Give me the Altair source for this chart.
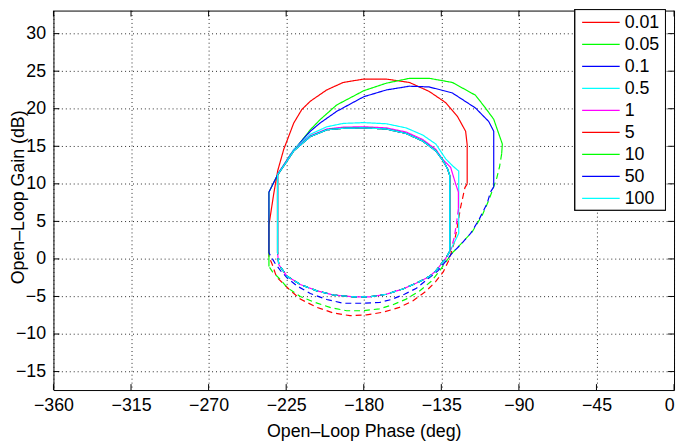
import altair as alt
import pandas as pd

# ---------------- data ----------------
SERIES = ["0.01", "0.05", "0.1", "0.5", "1", "5", "10", "50", "100"]
COLORS = ["#ff0000", "#00ff00", "#0000ff", "#00ffff", "#ff00ff",
          "#ff0000", "#00ff00", "#0000ff", "#00ffff"]

X_TICKS = [-360, -315, -270, -225, -180, -135, -90, -45, 0]
Y_TICKS = [-15, -10, -5, 0, 5, 10, 15, 20, 25, 30]

# 0.01 (red)
S001_SOLID_PH = [-235.0, -235.0, -232.2, -229.9, -226.4, -220.6, -215.9, -211.0, -201.5, -191.9,
                 -180.0, -166.9, -153.5, -142.0, -132.4, -125.7, -120.9, -120.0, -120.0]
S001_SOLID_G = [0.3, 4.5, 8.7, 11.75, 14.6, 18.1, 19.9, 21.0, 22.5, 23.5,
                23.95, 23.95, 23.5, 22.3, 20.8, 19.0, 17.0, 15.2, 10.0]
S001_DASH_PH = [-120.0, -121.3, -123.8, -125.7, -127.6, -130.5, -133.8, -138.2, -143.9, -151.6,
                -159.3, -168.9, -178.4, -188.0, -197.6, -207.2, -216.8, -223.5, -230.6, -233.3, -235.0]
S001_DASH_G = [10.0, 9.5, 6.9, 4.3, 2.1, -0.1, -1.7, -3.0, -4.3, -5.6,
               -6.45, -7.1, -7.45, -7.55, -7.2, -6.45, -5.35, -4.0, -2.4, -0.6, 0.3]

# 0.05 (green)
S005_SOLID_PH = [-235.0, -235.0, -230.2, -222.5, -216.5, -211.0, -205.3, -195.7, -180.0, -166.9,
                 -153.5, -142.0, -128.6, -115.2, -109.4, -104.6, -99.6, -100.0]
S005_SOLID_G = [-1.0, 8.9, 11.1, 13.9, 15.6, 17.2, 18.55, 20.5, 22.4, 23.4,
                24.05, 24.05, 23.5, 21.8, 20.1, 18.6, 15.3, 14.0]
S005_DASH_PH = [-100.0, -101.2, -102.8, -104.6, -107.5, -111.3, -117.1, -124.0, -128.6, -132.4,
                -136.3, -141.0, -147.8, -155.4, -163.1, -171.0, -180.4, -189.9, -199.0, -208.2,
                -216.8, -224.5, -229.0, -233.0, -235.0]
S005_DASH_G = [14.0, 12.3, 10.8, 9.6, 7.8, 5.8, 3.6, 1.9, 0.8, -0.4,
               -1.7, -3.0, -4.3, -5.35, -6.1, -6.65, -6.9, -6.9, -6.5, -5.8,
               -5.0, -3.8, -2.6, -1.7, -1.0]

# 0.1 (blue)
S01_SOLID_PH = [-235.0, -235.0, -230.2, -222.5, -216.5, -211.0, -205.3, -195.7, -180.0, -166.9,
                -153.5, -142.0, -128.6, -115.2, -107.5, -104.6, -104.6]
S01_SOLID_G = [0.8, 8.9, 11.1, 13.9, 15.6, 17.0, 18.1, 19.65, 21.6, 22.5,
               23.0, 22.9, 22.1, 20.1, 18.3, 17.0, 9.6]
S01_DASH_PH = [-104.6, -106.5, -108.4, -113.2, -118.0, -123.8, -128.6, -132.4, -137.0, -142.0,
               -149.7, -156.4, -164.0, -170.8, -180.4, -191.9, -201.5, -211.0, -218.7, -224.5,
               -228.5, -231.4, -235.0]
S01_DASH_G = [9.6, 8.9, 7.4, 5.2, 3.4, 1.9, 0.8, -0.3, -1.6, -2.5,
              -3.95, -4.7, -5.4, -5.8, -5.9, -5.9, -5.4, -4.6, -3.6, -2.5,
              -1.5, -0.6, 0.8]

# 0.5 (cyan, outer of the inner group)
S05_SOLID_PH = [-230.0, -230.0, -225.2, -220.6, -211.0, -201.4, -191.8, -180.0, -166.9, -155.4,
                -145.8, -138.2, -132.4, -128.0, -124.9, -124.9, -129.8]
S05_SOLID_G = [0.8, 11.3, 12.9, 14.6, 16.6, 17.6, 18.05, 18.15, 18.0, 17.45,
               16.5, 15.3, 13.3, 12.3, 11.7, 3.4, 1.1]

# 1 (magenta)
S1_SOLID_PH = [-230.0, -230.0, -225.2, -220.6, -211.0, -201.4, -191.8, -180.0, -166.9, -155.4,
               -145.8, -138.2, -134.4, -129.6, -126.7, -125.1, -125.1]
S1_SOLID_G = [0.8, 11.3, 12.9, 14.5, 16.4, 17.3, 17.55, 17.6, 17.45, 16.9,
              15.9, 14.6, 13.3, 12.2, 10.0, 8.9, 6.7]
S1_DASH_PH = [-125.1, -126.2, -127.6, -129.5]
S1_DASH_G = [6.7, 4.7, 2.75, 1.3]

# 5, 10, 50, 100 (inner curves, drawn on top of each other)
SIN_SOLID_PH = [-230.0, -230.0, -225.2, -220.6, -211.0, -201.4, -191.8, -180.0, -166.9, -155.4,
                -145.8, -138.2, -134.0, -131.4, -130.1, -130.1]
SIN_SOLID_G = [0.8, 11.2, 12.8, 14.4, 16.3, 17.2, 17.4, 17.45, 17.3, 16.7,
               15.7, 14.4, 13.1, 12.0, 11.1, 1.0]

# lower dashed arc shared by the inner group
INNER_DASH_PH = [-130.1, -132.4, -135.3, -138.2, -142.0, -149.7, -157.3, -166.9, -176.5, -186.1,
                 -197.6, -207.2, -216.8, -224.5, -229.3, -230.0]
INNER_DASH_G = [1.0, 0.1, -0.75, -1.6, -2.35, -3.25, -4.0, -4.7, -5.05, -5.05,
                -4.8, -4.25, -3.4, -2.3, -0.75, 0.8]

CURVES = [
    ("0.01", S001_SOLID_PH, S001_SOLID_G, S001_DASH_PH, S001_DASH_G),
    ("0.05", S005_SOLID_PH, S005_SOLID_G, S005_DASH_PH, S005_DASH_G),
    ("0.1", S01_SOLID_PH, S01_SOLID_G, S01_DASH_PH, S01_DASH_G),
    ("0.5", S05_SOLID_PH, S05_SOLID_G, INNER_DASH_PH, INNER_DASH_G),
    ("1", S1_SOLID_PH, S1_SOLID_G, S1_DASH_PH + INNER_DASH_PH[1:], S1_DASH_G + INNER_DASH_G[1:]),
    ("5", SIN_SOLID_PH, SIN_SOLID_G, INNER_DASH_PH, INNER_DASH_G),
    ("10", SIN_SOLID_PH, SIN_SOLID_G, INNER_DASH_PH, INNER_DASH_G),
    ("50", SIN_SOLID_PH, SIN_SOLID_G, INNER_DASH_PH, INNER_DASH_G),
    ("100", SIN_SOLID_PH, SIN_SOLID_G, INNER_DASH_PH, INNER_DASH_G),
]

rows = []
for name, sp, sg, dp, dg in CURVES:
    for i, (p, g) in enumerate(zip(sp, sg)):
        rows.append({"series": name, "part": name + "_s", "kind": "solid", "idx": i, "phase": p, "gain": g})
    for i, (p, g) in enumerate(zip(dp, dg)):
        rows.append({"series": name, "part": name + "_d", "kind": "dashed", "idx": i, "phase": p, "gain": g})
df = pd.DataFrame(rows)
legend_df = pd.DataFrame({"series": SERIES})

# ---------------- layout ----------------
W, H = 628, 384
FONT = "Liberation Sans"
color_scale = alt.Scale(domain=SERIES, range=COLORS)

x_enc = alt.X("phase:Q",
              scale=alt.Scale(domain=[-360, 0], nice=False, zero=False),
              axis=alt.Axis(values=X_TICKS, title="Open–Loop Phase (deg)",
                            labelPadding=7, labelFlush=False,
                            labelAlign={"condition": {"test": "datum.value === 0", "value": "right"},
                                        "value": "center"},
                            titleX=W / 2, titleY=47,
                            titleBaseline="alphabetic", titleAlign="center"))
y_enc = alt.Y("gain:Q",
              scale=alt.Scale(domain=[-17.46, 33.07], nice=False, zero=False),
              axis=alt.Axis(values=Y_TICKS, title="Open–Loop Gain (dB)",
                            labelPadding=8, labelFlush=False, titleX=-30, titleY=188.5,
                            titleAngle=270, titleBaseline="alphabetic", titleAlign="center"))

lines = alt.Chart(df).mark_line(strokeWidth=1.2, clip=True).encode(
    x=x_enc,
    y=y_enc,
    color=alt.Color("series:N", scale=color_scale, legend=None),
    strokeDash=alt.StrokeDash("kind:N",
                              scale=alt.Scale(domain=["solid", "dashed"], range=[[1, 0], [6, 4]]),
                              legend=None),
    detail="part:N",
    order="idx:Q",
)

xt = pd.DataFrame({"phase": X_TICKS})
yt = pd.DataFrame({"gain": Y_TICKS})
tick_bottom = alt.Chart(xt).mark_rule(color="black", strokeWidth=1).encode(
    x=x_enc, y=alt.value(H), y2=alt.value(H - 6))
tick_top = alt.Chart(xt).mark_rule(color="black", strokeWidth=1).encode(
    x=x_enc, y=alt.value(0), y2=alt.value(6))
tick_left = alt.Chart(yt).mark_rule(color="black", strokeWidth=1).encode(
    y=y_enc, x=alt.value(0), x2=alt.value(6))
tick_right = alt.Chart(yt).mark_rule(color="black", strokeWidth=1).encode(
    y=y_enc, x=alt.value(W), x2=alt.value(W - 6))

base = alt.layer(lines, tick_bottom, tick_top, tick_left, tick_right)

# legend box drawn inside the plot (top right), entries placed by a point scale
leg_y = alt.Y("series:N", scale=alt.Scale(domain=SERIES, range=[12, 190], type="point", padding=0),
              axis=None)
leg_box = alt.Chart(legend_df).mark_rect(fill="white", stroke="black", strokeWidth=1).encode(
    x=alt.value(527.7), x2=alt.value(619.3), y=alt.value(-1), y2=alt.value(202))
leg_sym = alt.Chart(legend_df).mark_rule(strokeWidth=1.2).encode(
    x=alt.value(535), x2=alt.value(573), y=leg_y,
    color=alt.Color("series:N", scale=color_scale, legend=None))
leg_txt = alt.Chart(legend_df).mark_text(align="left", baseline="middle", font=FONT,
                                         fontSize=18, color="black", dy=1).encode(
    x=alt.value(578), y=leg_y, text="series:N")
legend = alt.layer(leg_box, leg_sym, leg_txt)

chart = alt.layer(base, legend).resolve_scale(y="independent").properties(
    width=W, height=H,
    autosize=alt.AutoSizeParams(type="none"),
    padding={"left": 46, "top": 0, "right": 3, "bottom": 53},
).configure_view(
    stroke="black", strokeWidth=1
).configure_axis(
    labelFont=FONT, labelFontSize=18, labelColor="black",
    titleFont=FONT, titleFontSize=18, titleColor="black", titleFontWeight="normal",
    grid=True, gridColor="#000000", gridDash=[1, 3], gridOpacity=0.85, gridWidth=1,
    domain=False, ticks=False,
)

chart.save("out.html", embed_options={"renderer": "svg", "actions": False})
